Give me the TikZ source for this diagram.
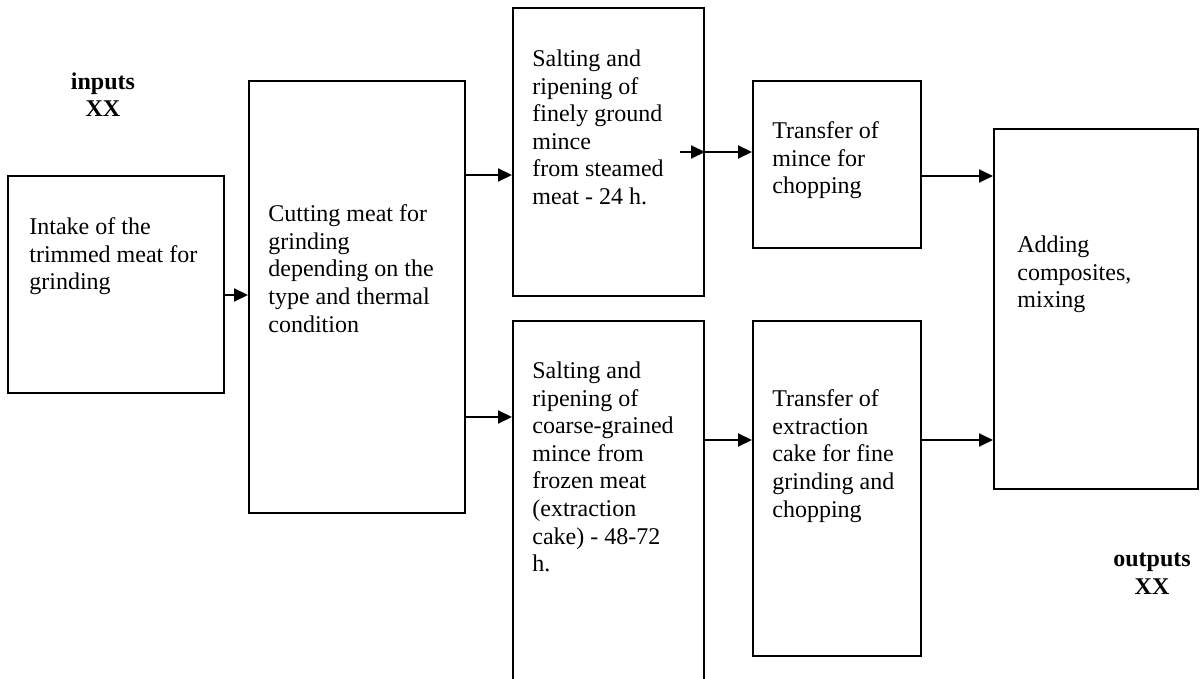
\documentclass[tikz,border=0pt]{standalone}
\usepackage{fontspec}
\setmainfont{Liberation Serif}
\usetikzlibrary{arrows.meta}

\begin{document}
\begin{tikzpicture}[
  x=0.5pt, y=-0.5pt,
  box/.style={draw, line width=1pt, rectangle, anchor=north west, inner sep=0pt},
  txt/.style={anchor=north west, inner sep=0pt, align=left,
              font={\fontsize{12pt}{13.8pt}\selectfont}},
  lbl/.style={anchor=north, inner sep=0pt, align=center,
              font={\fontsize{12pt}{13.8pt}\selectfont\bfseries}},
  arr/.style={line width=1pt, -{Triangle[length=7pt,width=6.5pt]}}
]
\useasboundingbox (0,0) rectangle (1200,679);

% process blocks
\node[box, minimum width=108pt,  minimum height=108.5pt] (intake)  at (7,175)   {};
\node[box, minimum width=108pt,  minimum height=216pt]   (cutting) at (248,80)  {};
\node[box, minimum width=95.5pt, minimum height=144pt]   (saltA)   at (512,7)   {};
\node[box, minimum width=84pt,   minimum height=83.5pt]  (transA)  at (752,80)  {};
\node[box, minimum width=102pt,  minimum height=180pt]   (adding)  at (993,128) {};
\node[box, minimum width=95.5pt, minimum height=190pt]   (saltB)   at (512,320) {};
\node[box, minimum width=84pt,   minimum height=167.5pt] (transB)  at (752,320) {};

% block texts
\node[txt] (intakeT)  at (29,217.5)  {Intake of the\\trimmed meat for\\grinding};
\node[txt] (cuttingT) at (268,204.5) {Cutting meat for\\grinding\\depending on the\\type and thermal\\condition};
\node[txt] (saltAT)   at (532,49.5)  {Salting and\\ripening of\\finely ground\\mince\\from steamed\\meat - 24 h.};
\node[txt] (transAT)  at (772,121.5) {Transfer of\\mince for\\chopping};
\node[txt] (addingT)  at (1017,235.5) {Adding\\composites,\\mixing};
\node[txt] (saltBT)   at (532,361.5) {Salting and\\ripening of\\coarse-grained\\mince from\\frozen meat\\(extraction\\cake) - 48-72\\h.};
\node[txt] (transBT)  at (772,389.5) {Transfer of\\extraction\\cake for fine\\grinding and\\chopping};

% inputs / outputs
\node[lbl] (inputs)  at (103,72)   {inputs\\XX};
\node[lbl] (outputs) at (1152,553) {outputs\\XX};

% connector levels
\coordinate (y1) at (0,295);
\coordinate (y2) at (0,175);
\coordinate (y3) at (0,417);
\coordinate (y4) at (0,152);
\coordinate (y5) at (0,440);
\coordinate (y6) at (0,176);
\coordinate (inA) at (680,152);

% connectors
\draw[arr] (intake.east |- y1) -- (cutting.west |- y1);
\draw[arr] (cutting.east |- y2) -- (saltA.west |- y2);
\draw[arr] (cutting.east |- y3) -- (saltB.west |- y3);
\draw[arr] (inA) -- (saltA.east |- y4);
\draw[arr] (saltA.east |- y4) -- (transA.west |- y4);
\draw[arr] (saltB.east |- y5) -- (transB.west |- y5);
\draw[arr] (transA.east |- y6) -- (adding.west |- y6);
\draw[arr] (transB.east |- y5) -- (adding.west |- y5);
\end{tikzpicture}
\end{document}
